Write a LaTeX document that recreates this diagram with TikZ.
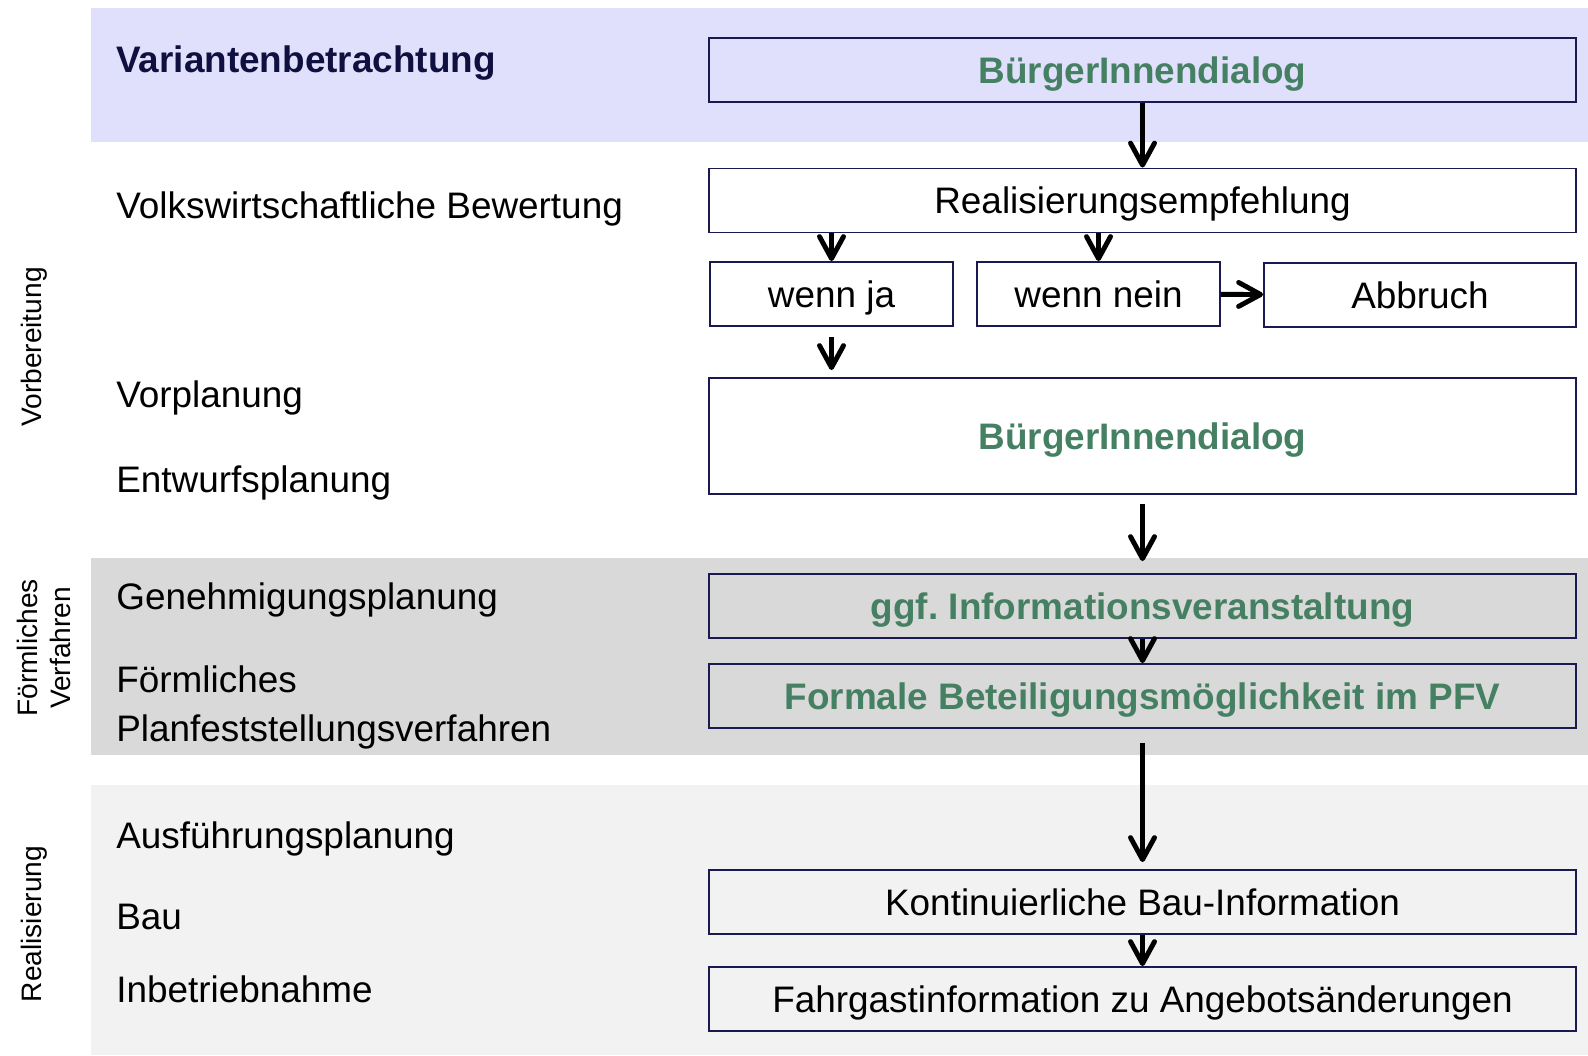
\documentclass[tikz,border=0pt]{standalone}
\usepackage{fontspec}
\setmainfont{Liberation Sans}
\definecolor{framenavy}{RGB}{26,26,80}
\definecolor{dialoggreen}{RGB}{69,128,99}
\definecolor{titlenavy}{RGB}{16,16,64}
\definecolor{bandlavender}{RGB}{224,224,252}
\definecolor{bandgray}{RGB}{217,217,217}
\definecolor{bandlight}{RGB}{242,242,242}
\usetikzlibrary{positioning,arrows.meta}

\begin{document}
\begin{tikzpicture}[x=0.02cm,y=-0.02cm,
    box/.style={rectangle,draw=framenavy,line width=1.1pt,inner sep=0pt,minimum width=17.34cm,minimum height=1.28cm,text height=15pt,text depth=0pt,font=\fontsize{21}{25}\selectfont},
    smallbox/.style={box,minimum width=4.86cm},
    dialog/.style={text=dialoggreen,font=\fontsize{21}{25}\selectfont\bfseries},
    phase/.style={anchor=base west,inner sep=0pt,font=\fontsize{21}{25}\selectfont},
    stage/.style={rotate=90,align=center,font=\fontsize{16}{19}\selectfont},
    arrow/.style={-{Straight Barb[length=4.4mm,width=4.8mm,round]},line width=2.8pt}
]
    \useasboundingbox (0,0) rectangle (1588,1055);
    % bands
    \fill[bandlavender] (91,8) rectangle (1588,142);
    \fill[bandgray] (91,558) rectangle (1588,755);
    \fill[bandlight] (91,785) rectangle (1588,1055);

    \node[stage] (vorb) at (34,347) {Vorbereitung};
    \node[stage] (foerm) at (44,648) {Förmliches\\Verfahren};
    \node[stage] (real) at (34,924) {Realisierung};

    \node[phase,text=titlenavy,font=\fontsize{21}{25}\selectfont\bfseries] (var) at (116,72) {Variantenbetrachtung};
    \node[phase] (vwb) at (116,218) {Volkswirtschaftliche Bewertung};
    \node[phase] (vorpl) at (116,407) {Vorplanung};
    \node[phase] (entw) at (116,492) {Entwurfsplanung};
    \node[phase] (gen) at (116,609) {Genehmigungsplanung};
    \node[phase] (pfvtxt) at (116,692) {Förmliches};
    \node[phase] (pfvtxt2) at (116,741) {Planfeststellungsverfahren};
    \node[phase] (ausf) at (116,848) {Ausführungsplanung};
    \node[phase] (bau) at (116,929) {Bau};
    \node[phase] (inb) at (116,1002) {Inbetriebnahme};

    \node[box,dialog] (buerger1) at (1142.5,70) {BürgerInnendialog};
    \node[box] (empf) at (1142.5,200.5) {Realisierungsempfehlung};
    \node[smallbox] (ja) at (831.5,294) {wenn ja};
    \node[smallbox] (nein) at (1098.5,294) {wenn nein};
    \node[box,minimum width=6.24cm] (abbruch) at (1420,295) {Abbruch};
    \node[box,dialog,minimum height=2.32cm] (buerger2) at (1142.5,436) {BürgerInnendialog};
    \node[box,dialog] (info) at (1142.5,606) {ggf.\ Informationsveranstaltung};
    \node[box,dialog] (pfv) at (1142.5,696) {Formale Beteiligungsmöglichkeit im PFV};
    \node[box] (bauinfo) at (1142.5,902) {Kontinuierliche Bau-Information};
    \node[box] (fahrgast) at (1142.5,999) {Fahrgastinformation zu Angebotsänderungen};

    \draw[arrow] (buerger1) -- (empf);
    \draw[arrow] (ja.north |- empf.south) -- (ja.north);
    \draw[arrow] (nein.north |- empf.south) -- (nein.north);
    \draw[arrow] (nein) -- (abbruch);
    \draw[arrow,shorten <=2mm,shorten >=1.4mm] (ja.south) -- (ja.south |- buerger2.north);
    \draw[arrow,shorten <=1.8mm,shorten >=2.4mm] (buerger2) -- (info);
    \draw[arrow] (info) -- (pfv);
    \draw[arrow,shorten <=2.8mm,shorten >=1.4mm] (pfv) -- (bauinfo);
    \draw[arrow] (bauinfo) -- (fahrgast);
\end{tikzpicture}
\end{document}
